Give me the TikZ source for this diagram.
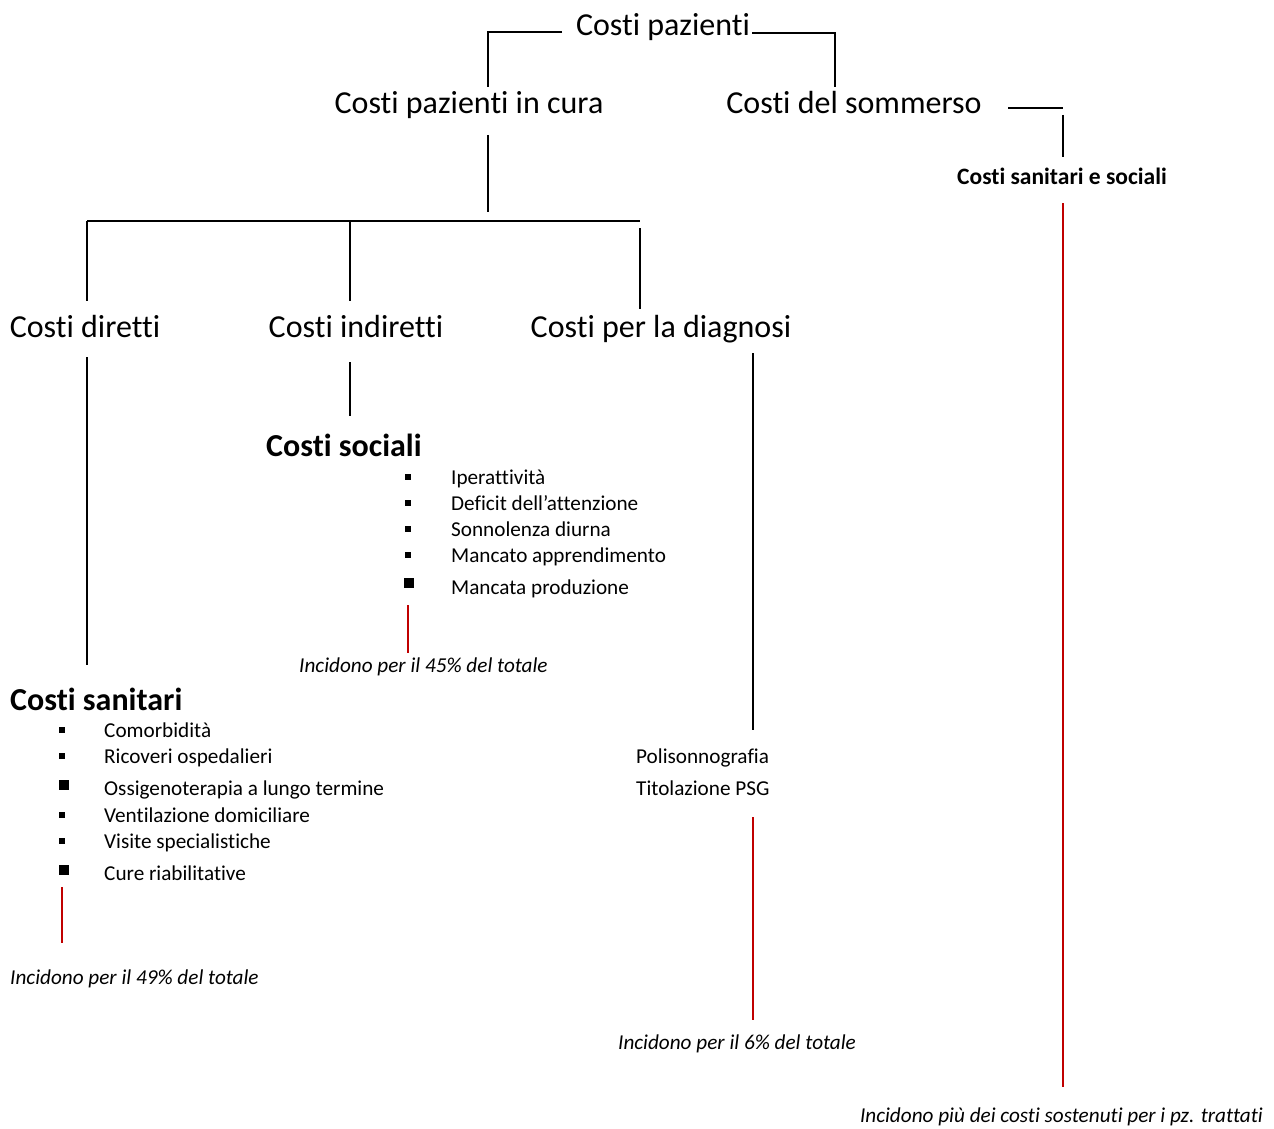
\documentclass[tikz,border=0pt]{standalone}
\usepackage{fontspec}
\setmainfont{Carlito}[Ligatures=NoCommon]
\usepackage{tikz}
\definecolor{darkred}{RGB}{192,0,0}
\tikzstyle{title}=[inner sep=0pt,font=\fontsize{32}{38}\selectfont]
\tikzstyle{head}=[inner sep=0pt,anchor=west,font=\fontsize{32}{38}\selectfont\bfseries]
\tikzstyle{subhead}=[inner sep=0pt,font=\fontsize{23.5}{28}\selectfont\bfseries]
\tikzstyle{entry}=[inner sep=0pt,anchor=west,font=\fontsize{21.2}{25}\selectfont]
\tikzstyle{note}=[inner sep=0pt,font=\fontsize{21.2}{25}\selectfont\itshape]
\tikzstyle{bul}=[fill=black,inner sep=0pt,minimum size=6.5pt]
\tikzstyle{bigbul}=[fill=black,inner sep=0pt,minimum size=9.5pt]
\tikzstyle{link}=[draw=black,line width=1.5pt]
\tikzstyle{redlink}=[draw=darkred,line width=1.5pt]
\tikzstyle{elbow}=[to path={-| (\tikztotarget)}]
\newcommand{\entry}{\node[entry]}

\begin{document}
\begin{tikzpicture}[x=1pt,y=-1pt]
			\useasboundingbox (0,0) rectangle (1274,1129);
			% % % % % % % % % % % % % % % % % % % % % % % % % % % % %
			\node [title] (cp) at (663,27) {Costi pazienti};
			\node [title] (cpc) at (469,105) {Costi pazienti in cura};
			\node [title] (cso) at (854,103) {Costi del sommerso};
			\node [subhead] (css) at (1062,176) {Costi sanitari e sociali};
			\node [title] (cd) at (85,327) {Costi diretti};
			\node [title] (ci) at (356,327) {Costi indiretti};
			\node [title] (cdg) at (661,329) {Costi per la diagnosi};
			%*********************
			\node [head] (soc) at (266,445) {Costi sociali};
			\node [bul] (s1) at (408,477) {};
			\node [bul] (s2) at (408,503) {};
			\node [bul] (s3) at (408,529) {};
			\node [bul] (s4) at (408,555) {};
			\node [bigbul] (s5) at (409,583) {};
			\entry (t1) at (451,479) {Iperattività};
			\entry (t2) at (451,503) {Deficit dell’attenzione};
			\entry (t3) at (451,529) {Sonnolenza diurna};
			\entry (t4) at (451,557) {Mancato apprendimento};
			\entry (t5) at (451,589) {Mancata produzione};
			\node [note,anchor=west] (nsoc) at (299,667) {Incidono per il 45\% del totale};
			%*********************
			\node [head] (san) at (10,699) {Costi sanitari};
			\node [bul] (a1) at (62,730) {};
			\node [bul] (a2) at (62,756) {};
			\node [bigbul] (a3) at (64,785) {};
			\node [bul] (a4) at (62,815) {};
			\node [bul] (a5) at (62,841) {};
			\node [bigbul] (a6) at (64,870) {};
			\entry (u1) at (104,730) {Comorbidità};
			\entry (u2) at (104,758) {Ricoveri ospedalieri};
			\entry (u3) at (104,790) {Ossigenoterapia a lungo termine};
			\entry (u4) at (104,815) {Ventilazione domiciliare};
			\entry (u5) at (104,843) {Visite specialistiche};
			\entry (u6) at (104,873) {Cure riabilitative};
			\node [note,anchor=west] (nsan) at (10,979) {Incidono per il 49\% del totale};
			%*********************
			\entry (d1) at (636,758) {Polisonnografia};
			\entry (d2) at (636,788) {Titolazione PSG};
			\node [note] (ndg) at (737,1044) {Incidono per il 6\% del totale};
			\node [note,anchor=east] (nso) at (1263,1117) {Incidono più dei costi sostenuti per i pz. trattati};
			% % % % % % % % % % % % % % % % % % % % % % % % % % % % %
			\coordinate (j1) at (562,32);
			\coordinate (j2) at (488,87);
			\coordinate (j3) at (752,33);
			\coordinate (j4) at (835,87);
			\coordinate (j5) at (1008,108);
			\coordinate (j6) at (1063,108);
			\coordinate (j7) at (1063,115);
			\coordinate (j8) at (1063,157);
			%*********************
			\coordinate (b1) at (488,135);
			\coordinate (b2) at (488,212);
			\coordinate (b3) at (87,221);
			\coordinate (b4) at (640,221);
			\coordinate (b5) at (87,301);
			\coordinate (b6) at (350,221);
			\coordinate (b7) at (350,301);
			\coordinate (b8) at (640,228);
			\coordinate (b9) at (640,309);
			%*********************
			\coordinate (c1) at (87,357);
			\coordinate (c2) at (87,665);
			\coordinate (c3) at (350,362);
			\coordinate (c4) at (350,416);
			\coordinate (c5) at (753,353);
			\coordinate (c6) at (753,730);
			%*********************
			\coordinate (r1) at (408,605);
			\coordinate (r2) at (408,653);
			\coordinate (r3) at (62,887);
			\coordinate (r4) at (62,943);
			\coordinate (r5) at (753,817);
			\coordinate (r6) at (753,1020);
			\coordinate (r7) at (1063,203);
			\coordinate (r8) at (1063,1087);
			\path
			% % % % % % % % % % % % % % % % %
			(j1) edge [link,elbow] (j2)
			(j3) edge [link,elbow] (j4)
			(j5) edge [link] (j6)
			(j7) edge [link] (j8)
			%**************
			(b1) edge [link] (b2)
			(b3) edge [link] (b4)
			(b3) edge [link] (b5)
			(b6) edge [link] (b7)
			(b8) edge [link] (b9)
			%**************
			(c1) edge [link] (c2)
			(c3) edge [link] (c4)
			(c5) edge [link] (c6)
			%**************
			(r1) edge [redlink] (r2)
			(r3) edge [redlink] (r4)
			(r5) edge [redlink] (r6)
			(r7) edge [redlink] (r8)
			;
\end{tikzpicture}
\end{document}
